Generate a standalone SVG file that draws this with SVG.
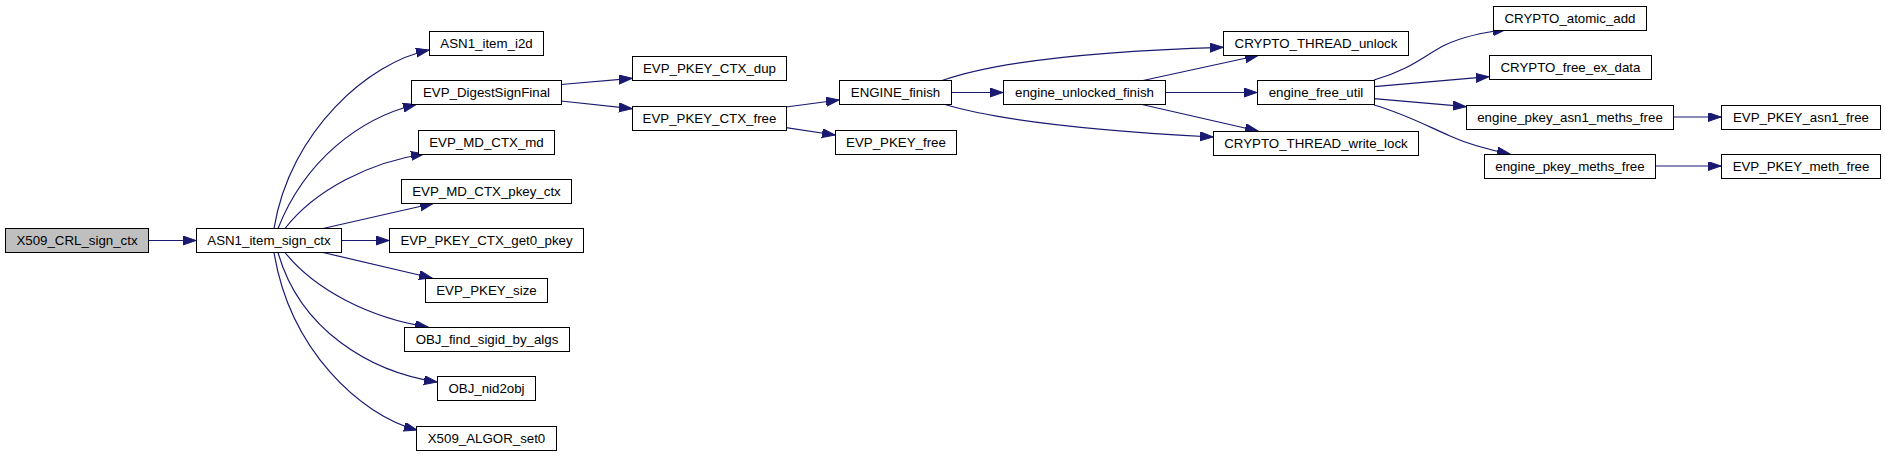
<svg xmlns="http://www.w3.org/2000/svg" width="1885" height="456" viewBox="0 0 1885 456">
<style>
.n rect{fill:#ffffff;stroke:#000000;stroke-width:1}
.n.root rect{fill:#bfbfbf}
.n text{font-family:"Liberation Sans",Arial,sans-serif;font-size:13.3px;fill:#000000;text-anchor:middle}
.e path{fill:none;stroke:#191970;stroke-width:1.2;marker-end:url(#arr)}
</style>
<defs>
<marker id="arr" markerUnits="userSpaceOnUse" markerWidth="14" markerHeight="10" refX="13" refY="4.5" orient="auto">
<path d="M0,0 L13,4.5 L0,9 z" fill="#191970" stroke="#191970" stroke-width="1"/>
</marker>
</defs>
<rect width="1885" height="456" fill="#ffffff"/>
<g id="edges" class="e">
<path d="M148,240.5 L196,240.5"/>
<path d="M274,228.5 C290,130 370,62 429,50"/>
<path d="M278,228.5 C305,160 360,118 416,104.5"/>
<path d="M285,228.5 C315,190 370,162 424,154"/>
<path d="M323,228.5 L433,203.5"/>
<path d="M341,240.5 L389,240.5"/>
<path d="M323,252.5 L432,278"/>
<path d="M285,252.5 C315,290 370,318 428,327"/>
<path d="M278,252.5 C300,330 370,372 437,382"/>
<path d="M274,252.5 C290,350 360,415 417,430"/>
<path d="M561,84.5 L632,78.3"/>
<path d="M561,101 L632,108.7"/>
<path d="M786,107 L839,100"/>
<path d="M786,127.7 L835,135"/>
<path d="M951,92.5 L1003,92.5"/>
<path d="M942,80.5 C1000,60 1100,51 1223,47.3"/>
<path d="M945,104.5 C1000,121 1100,131 1213,137"/>
<path d="M1143,80.5 L1258,55.5"/>
<path d="M1165,92.5 L1257,92.5"/>
<path d="M1142,104.5 L1258,131"/>
<path d="M1374,80 C1410,70 1425,55 1445,45 C1462,37 1485,32 1506,29.5"/>
<path d="M1374,86.7 L1489,76.7"/>
<path d="M1374,98.7 L1466,106.7"/>
<path d="M1374,105 C1405,114 1425,125 1450,136 C1470,145 1490,150 1510,154"/>
<path d="M1673,117 L1721,117"/>
<path d="M1655,166 L1721,166"/>
</g>
<g id="X509_CRL_sign_ctx" class="n root"><rect x="5.5" y="228.5" width="143" height="24"/><text x="77" y="245">X509_CRL_sign_ctx</text></g>
<g id="ASN1_item_sign_ctx" class="n"><rect x="196.5" y="228.5" width="145" height="24"/><text x="269" y="245">ASN1_item_sign_ctx</text></g>
<g id="ASN1_item_i2d" class="n"><rect x="429.5" y="31.5" width="114" height="24"/><text x="486.5" y="48">ASN1_item_i2d</text></g>
<g id="EVP_DigestSignFinal" class="n"><rect x="411.5" y="80.5" width="150" height="24"/><text x="486.5" y="97">EVP_DigestSignFinal</text></g>
<g id="EVP_MD_CTX_md" class="n"><rect x="418.5" y="130.5" width="136" height="24"/><text x="486.5" y="147">EVP_MD_CTX_md</text></g>
<g id="EVP_MD_CTX_pkey_ctx" class="n"><rect x="401.5" y="179.5" width="170" height="24"/><text x="486.5" y="196">EVP_MD_CTX_pkey_ctx</text></g>
<g id="EVP_PKEY_CTX_get0_pkey" class="n"><rect x="389.5" y="228.5" width="194" height="24"/><text x="486.5" y="245">EVP_PKEY_CTX_get0_pkey</text></g>
<g id="EVP_PKEY_size" class="n"><rect x="425.5" y="278.5" width="122" height="24"/><text x="486.5" y="295">EVP_PKEY_size</text></g>
<g id="OBJ_find_sigid_by_algs" class="n"><rect x="404.5" y="327.5" width="165" height="24"/><text x="487" y="344">OBJ_find_sigid_by_algs</text></g>
<g id="OBJ_nid2obj" class="n"><rect x="437.5" y="376.5" width="98" height="24"/><text x="486.5" y="393">OBJ_nid2obj</text></g>
<g id="X509_ALGOR_set0" class="n"><rect x="416.5" y="426.5" width="140" height="24"/><text x="486.5" y="443">X509_ALGOR_set0</text></g>
<g id="EVP_PKEY_CTX_dup" class="n"><rect x="632.5" y="56.5" width="154" height="24"/><text x="709.5" y="73">EVP_PKEY_CTX_dup</text></g>
<g id="EVP_PKEY_CTX_free" class="n"><rect x="632.5" y="106.5" width="154" height="24"/><text x="709.5" y="123">EVP_PKEY_CTX_free</text></g>
<g id="ENGINE_finish" class="n"><rect x="839.5" y="80.5" width="112" height="24"/><text x="895.5" y="97">ENGINE_finish</text></g>
<g id="EVP_PKEY_free" class="n"><rect x="835.5" y="130.5" width="121" height="24"/><text x="896" y="147">EVP_PKEY_free</text></g>
<g id="engine_unlocked_finish" class="n"><rect x="1003.5" y="80.5" width="162" height="24"/><text x="1084.5" y="97">engine_unlocked_finish</text></g>
<g id="CRYPTO_THREAD_unlock" class="n"><rect x="1223.5" y="31.5" width="185" height="24"/><text x="1316" y="48">CRYPTO_THREAD_unlock</text></g>
<g id="engine_free_util" class="n"><rect x="1257.5" y="80.5" width="117" height="24"/><text x="1316" y="97">engine_free_util</text></g>
<g id="CRYPTO_THREAD_write_lock" class="n"><rect x="1213.5" y="131.5" width="205" height="24"/><text x="1316" y="148">CRYPTO_THREAD_write_lock</text></g>
<g id="CRYPTO_atomic_add" class="n"><rect x="1493.5" y="6.5" width="153" height="24"/><text x="1570" y="23">CRYPTO_atomic_add</text></g>
<g id="CRYPTO_free_ex_data" class="n"><rect x="1489.5" y="55.5" width="162" height="24"/><text x="1570.5" y="72">CRYPTO_free_ex_data</text></g>
<g id="engine_pkey_asn1_meths_free" class="n"><rect x="1466.5" y="105.5" width="207" height="24"/><text x="1570" y="122">engine_pkey_asn1_meths_free</text></g>
<g id="engine_pkey_meths_free" class="n"><rect x="1484.5" y="154.5" width="171" height="24"/><text x="1570" y="171">engine_pkey_meths_free</text></g>
<g id="EVP_PKEY_asn1_free" class="n"><rect x="1721.5" y="105.5" width="159" height="24"/><text x="1801" y="122">EVP_PKEY_asn1_free</text></g>
<g id="EVP_PKEY_meth_free" class="n"><rect x="1721.5" y="154.5" width="159" height="24"/><text x="1801" y="171">EVP_PKEY_meth_free</text></g>
</svg>
